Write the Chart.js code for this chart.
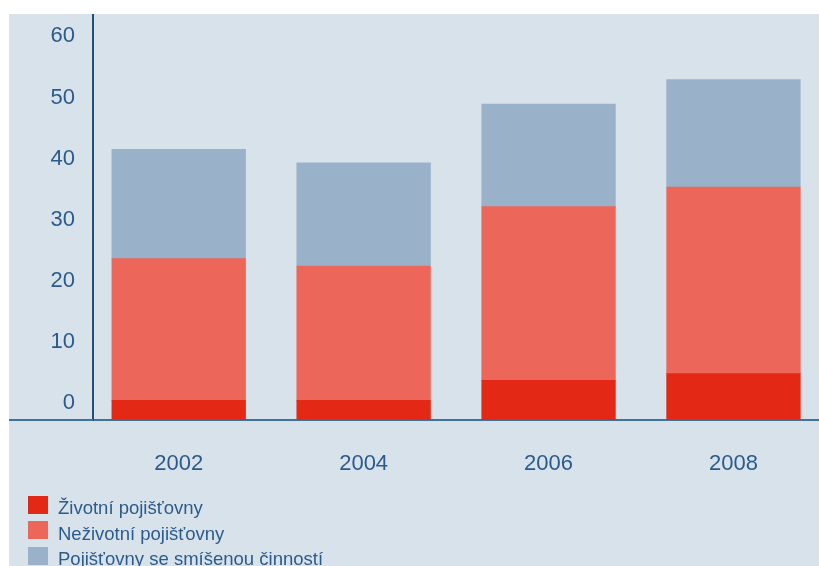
<!DOCTYPE html>
<html lang="cs">
<head>
<meta charset="utf-8">
<title>Počet pojišťoven</title>
<script src="https://cdn.jsdelivr.net/npm/chart.js@4/dist/chart.umd.min.js"></script>
<style>
  html, body { margin: 0; padding: 0; background: #ffffff; }
  body { width: 819px; height: 566px; position: relative; overflow: hidden; }
  #panel { position: absolute; left: 9px; top: 14px; width: 810px; height: 552px; background: #d8e2eb; }
  #chart { position: absolute; left: 0; top: 0; }
  #legend { position: absolute; left: 19px; top: 481.5px; font-family: "Liberation Sans", Arial, sans-serif; font-size: 18.5px; color: #2c5b8b; }
  .row { position: absolute; left: 0; height: 18px; white-space: nowrap; }
  .swatch { position: absolute; left: 0; top: 0; width: 20px; height: 18px; }
  .label { position: absolute; left: 30px; top: 3.5px; line-height: 18px; }
</style>
</head>
<body>
<div id="panel">
  <canvas id="chart" width="810" height="552"></canvas>
  <div id="legend"></div>
</div>
<script>
// Roky a počty pojišťoven podle typu činnosti
const years = [2002, 2004, 2006, 2008];
const zivotni = [3.2, 3.2, 6.5, 7.6];
const nezivotni = [23.2, 22.0, 28.4, 30.5];
const smisene = [17.9, 16.9, 16.8, 17.6];
const yTicks = [0, 10, 20, 30, 40, 50, 60];

const seriesNames = ['Životní pojišťovny', 'Neživotní pojišťovny', 'Pojišťovny se smíšenou činností'];
const seriesColors = ['#e32815', '#ec675a', '#99b2c9'];

const textColor = '#2c5b8b';
const fontFamily = '"Liberation Sans", Arial, sans-serif';

// x-axis line continues left to the panel edge
const axisExtension = {
  id: 'axisExtension',
  afterDraw(chart) {
    const xs = chart.scales.x;
    const ctx = chart.ctx;
    ctx.save();
    ctx.strokeStyle = '#41729d';
    ctx.lineWidth = 2;
    ctx.beginPath();
    ctx.moveTo(0, xs.top);
    ctx.lineTo(chart.chartArea.left, xs.top);
    ctx.stroke();
    ctx.restore();
  }
};

const makeSet = (i, values) => ({
  label: seriesNames[i],
  data: values,
  backgroundColor: seriesColors[i],
  borderWidth: 0,
  inflateAmount: 0.4,
  categoryPercentage: 1,
  barPercentage: 0.722
});

const chart = new Chart(document.getElementById('chart'), {
  type: 'bar',
  data: {
    labels: years,
    datasets: [makeSet(0, zivotni), makeSet(1, nezivotni), makeSet(2, smisene)]
  },
  options: {
    responsive: false,
    animation: false,
    devicePixelRatio: 1,
    layout: { padding: 0 },
    plugins: { legend: { display: false }, tooltip: { enabled: false } },
    scales: {
      x: {
        type: 'linear',
        stacked: true,
        offset: false,
        min: 2001.073,
        max: 2008.925,
        z: 1,
        grid: { display: false, drawTicks: false },
        border: { display: true, color: '#41729d', width: 2 },
        afterBuildTicks: s => { s.ticks = years.map(v => ({ value: v })); },
        afterFit: s => { s.height = 146; s.paddingLeft = 0; s.paddingRight = 0; },
        ticks: {
          padding: 31,
          color: textColor,
          font: { family: fontFamily, size: 22 },
          maxRotation: 0,
          callback: v => String(v)
        }
      },
      y: {
        stacked: true,
        min: 0,
        max: 66.45,
        grid: { display: false, drawTicks: false },
        border: { display: true, color: '#1e4f7e', width: 2 },
        afterBuildTicks: s => { s.ticks = yTicks.map(v => ({ value: v })); },
        afterFit: s => { s.width = 84; s.paddingTop = 0; s.paddingBottom = 0; },
        ticks: {
          padding: 18,
          labelOffset: -17,
          color: textColor,
          font: { family: fontFamily, size: 22 },
          callback: v => String(v)
        }
      }
    }
  },
  plugins: [axisExtension]
});

// legend rows built from the chart's datasets
const legend = document.getElementById('legend');
chart.data.datasets.forEach((ds, i) => {
  const row = document.createElement('div');
  row.className = 'row';
  row.style.top = (i * 25.5) + 'px';
  const sw = document.createElement('span');
  sw.className = 'swatch';
  sw.style.background = ds.backgroundColor;
  const tx = document.createElement('span');
  tx.className = 'label';
  tx.textContent = ds.label;
  row.appendChild(sw);
  row.appendChild(tx);
  legend.appendChild(row);
});
</script>
</body>
</html>
